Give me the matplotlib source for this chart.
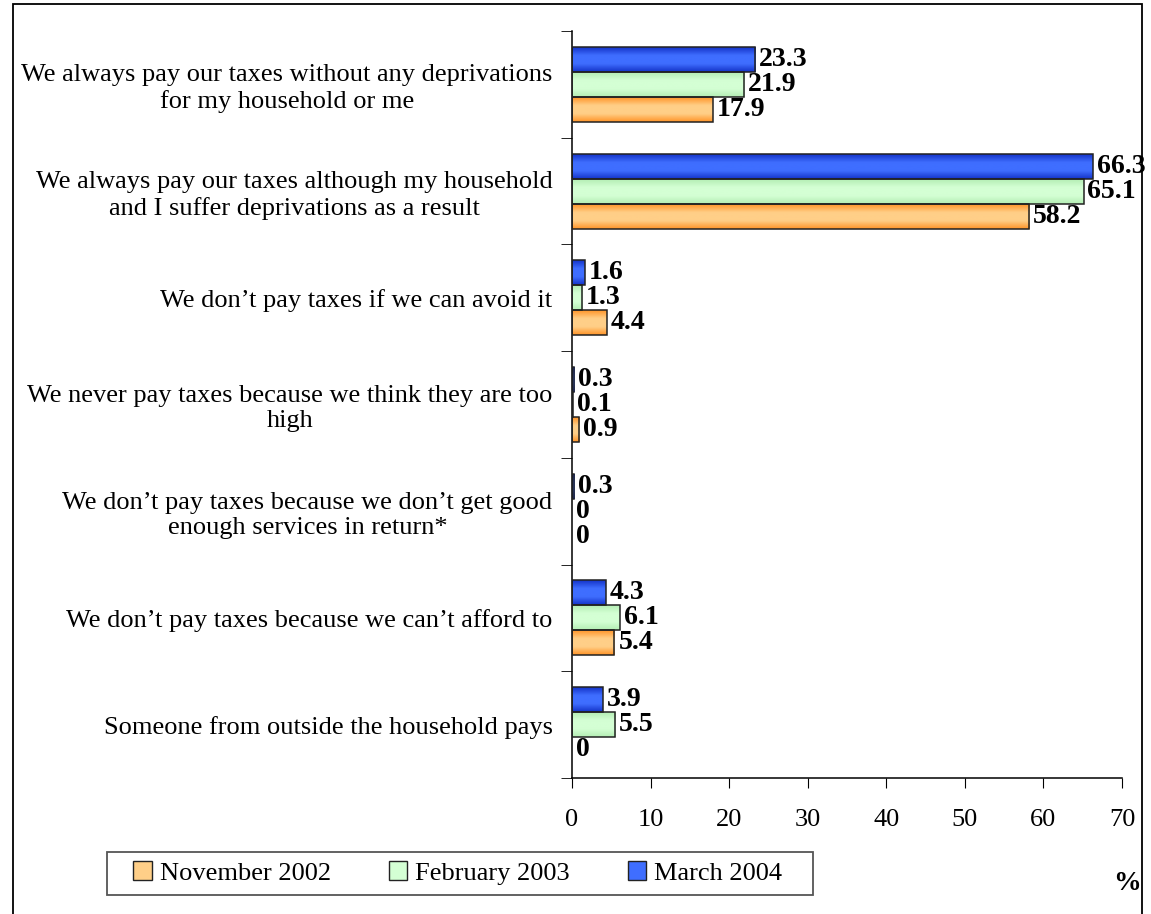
import numpy as np
import matplotlib.pyplot as plt
from matplotlib.patches import Rectangle, Patch
from matplotlib.colors import LinearSegmentedColormap

plt.rcParams['font.family'] = ['Liberation Serif', 'DejaVu Serif']

categories = [
    "We always pay our taxes without any deprivations\nfor my household or me",
    "We always pay our taxes although my household\nand I suffer deprivations as a result",
    "We don\u2019t pay taxes if we can avoid it",
    "We never pay taxes because we think they are too\nhigh",
    "We don\u2019t pay taxes because we don\u2019t get good\nenough services in return*",
    "We don\u2019t pay taxes because we can\u2019t afford to",
    "Someone from outside the household pays",
]
series_names = ["November 2002", "February 2003", "March 2004"]
nov_2002 = [17.9, 58.2, 4.4, 0.9, 0, 5.4, 0]
feb_2003 = [21.9, 65.1, 1.3, 0.1, 0, 6.1, 5.5]
mar_2004 = [23.3, 66.3, 1.6, 0.3, 0.3, 4.3, 3.9]
x_ticks = [0, 10, 20, 30, 40, 50, 60, 70]

# colours: (edge of gradient, middle of gradient)
colors = {
    "November 2002": ("#FF9428", "#FFCF88"),
    "February 2003": ("#B4EEB4", "#D4FFD4"),
    "March 2004": ("#1433C8", "#3F6EFF"),
}

fig = plt.figure(figsize=(11.51, 9.14), dpi=100)
ax = fig.add_axes([572/1151, 1 - 778/914, 550/1151, (778 - 31)/914])

n = len(categories)
centers = np.arange(n)[::-1] + 0.5   # top category at top
h = 0.234

def gradient_bar(ax, y, w, c_edge, c_mid):
    if w <= 0:
        return
    cmap = LinearSegmentedColormap.from_list("g", [c_edge, c_mid, c_mid, c_edge])
    grad = np.linspace(0, 1, 64).reshape(-1, 1)
    ax.imshow(grad, extent=[0, w, y - h/2, y + h/2], aspect='auto',
              cmap=cmap, origin='lower', zorder=2, interpolation='bicubic')
    ax.add_patch(Rectangle((0, y - h/2), w, h, fill=False,
                           edgecolor='#222222', linewidth=1.1, zorder=3))

offsets = {"March 2004": h, "February 2003": 0.0, "November 2002": -h}
data = {"November 2002": nov_2002, "February 2003": feb_2003, "March 2004": mar_2004}

for name in series_names:
    vals = data[name]
    for i, v in enumerate(vals):
        y = centers[i] + offsets[name]
        gradient_bar(ax, y, v, *colors[name])
        ax.text(v + 0.5, y, f"{v:g}", va='center', ha='left',
                fontsize=20, fontweight='bold', zorder=4)

ax.set_xlim(0, 70)
ax.set_ylim(0, n)
ax.set_xticks(x_ticks)
ax.tick_params(axis='x', labelsize=19, direction='out', length=7, pad=15)

ax.set_yticks(centers)
ax.set_yticklabels(categories, fontsize=19, multialignment='center')
ax.tick_params(axis='y', which='major', length=0, pad=14)
ax.set_yticks(np.arange(n + 1), minor=True)
ax.tick_params(axis='y', which='minor', length=8, direction='out')

for s in ['top', 'right']:
    ax.spines[s].set_visible(False)
ax.spines['left'].set_linewidth(1.1)
ax.spines['bottom'].set_linewidth(1.1)

# outer frame
fig.patches.append(Rectangle((13/1151, -0.05), (1142 - 13)/1151, 1.05 - 4/914,
                             transform=fig.transFigure, fill=False,
                             edgecolor='black', linewidth=1.3))

# legend box drawn by hand, legend itself without frame
fig.patches.append(Rectangle((107/1151, 1 - 895/914), (813 - 107)/1151, 43/914,
                             transform=fig.transFigure, fill=False,
                             edgecolor='#555555', linewidth=1.3))
handles = [Patch(facecolor=colors[nm][1], edgecolor='#222222', label=nm)
           for nm in series_names]
fig.legend(handles=handles, loc='center left',
           bbox_to_anchor=(124/1151, 1 - 873/914),
           ncol=3, fontsize=19, frameon=False,
           handlelength=0.7, handleheight=0.7,
           handletextpad=0.3, columnspacing=2.2, borderpad=0.35,
           borderaxespad=0)

fig.text(1127/1151, 1 - 883/914, "%", fontsize=20, fontweight='bold',
         ha='center', va='center')

fig.savefig("out.png", dpi=100)
